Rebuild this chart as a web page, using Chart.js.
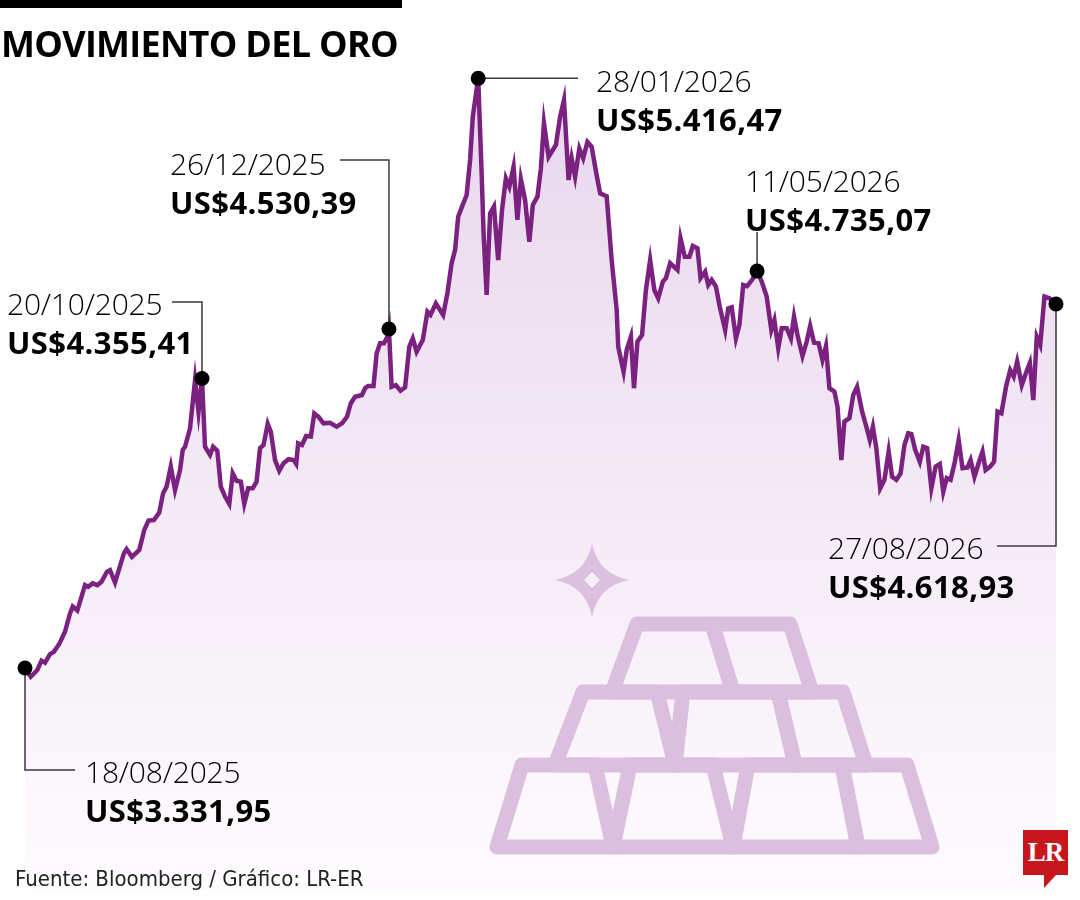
<!DOCTYPE html>
<html>
<head>
<meta charset="utf-8">
<title>Movimiento del oro</title>
<script src="https://cdn.jsdelivr.net/npm/chart.js@4.4.1/dist/chart.umd.min.js"></script>
<style>
    body { margin: 0; background: #fff; }
    #page { position: relative; width: 1080px; height: 900px; overflow: hidden; background: #fff; }
    #chart { position: absolute; left: 0; top: 0; }
    #topbar { position: absolute; left: 0; top: 0; width: 402px; height: 8px; background: #000; }
    #title { position: absolute; left: 1px; top: 24px; font-family: "Open Sans", sans-serif; font-weight: 700;
             font-size: 36px; line-height: 40px; letter-spacing: -0.7px; color: #000; white-space: nowrap; }
    .mark { position: absolute; font-family: "Open Sans", sans-serif; line-height: 33px; color: #000; white-space: nowrap; }
    .mark .d { font-weight: 300; font-size: 30px; letter-spacing: -0.2px; }
    .mark .v { font-weight: 700; font-size: 31px; letter-spacing: 0.4px; }
    #source { position: absolute; left: 15px; top: 866px; font-family: "Liberation Sans Narrow", "DejaVu Sans Condensed", sans-serif;
              font-stretch: condensed; font-size: 22px; line-height: 26px; color: #222; white-space: nowrap; }
    #logo { position: absolute; left: 1023px; top: 830px; width: 45px; height: 45px; background: #c8161d;
            color: #fff; font-family: "Liberation Serif", "DejaVu Serif", serif; font-weight: 700; font-size: 27px;
            line-height: 45px; text-align: center; letter-spacing: -1px; }
    #logo:after { content: ""; position: absolute; left: 21px; top: 45px; border-left: 0 solid transparent;
                  border-right: 12px solid transparent; border-top: 13px solid #c8161d; }
</style>
</head>
<body>
<div id="page">
    <canvas id="chart" width="1080" height="900"></canvas>
    <div id="topbar"></div>
    <div id="title">MOVIMIENTO DEL ORO</div>
    <div id="source">Fuente: Bloomberg / Gráfico: LR-ER</div>
    <div id="logo">LR</div>
</div>
<script>
// posicion en dias habiles desde el 18/08/2025 y precio del oro (US$ por onza)
var sessions = [
    0, 1.5, 3.2, 4.3, 5.2, 6.5, 7.5, 8.9, 10.4, 11.7, 12.4, 13.6, 15.6, 16.4, 17.6, 18.8, 19.9, 21.3, 22.1, 23.4,
    25.7, 26.4, 27.8, 29.7, 31.0, 32.1, 33.5, 34.9, 35.9, 36.8, 37.9, 39.0, 40.3, 41.0, 41.6, 42.9, 44.2, 45.1, 46.0,
    46.8, 48.1, 48.9, 50.0, 50.9, 52.0, 53.1, 54.0, 55.0, 56.1, 57.0, 58.0, 59.2, 60.2, 61.1, 62.0, 63.1, 63.9, 65.0,
    66.1, 67.2, 68.5, 69.8, 70.5, 71.0, 72.0, 73.1, 74.3, 75.2, 76.3, 77.6, 79.3, 81.0, 82.4, 83.7, 84.7,
    85.8, 87.6, 88.4, 89.2, 90.6, 91.4, 92.3, 93.3, 94.2, 94.6,
    95.3, 96.4, 97.6, 98.8, 99.9, 100.8, 101.8, 103.4, 104.6, 105.4, 106.8, 108.7, 109.8, 110.9, 111.8, 112.6,
    113.6, 114.8, 115.7, 116.4, 117.8,
    118.7, 119.2, 120.0, 120.9, 121.9, 123.0, 124.0, 125.0, 125.9, 127.0, 128.0, 128.9, 130.0, 131.1, 132.0, 133.2,
    134.1, 134.9, 136.1, 136.9, 138.0, 139.1, 140.1, 141.3, 142.1, 143.0, 144.1, 145.1, 146.2, 147.3, 148.5, 149.5,
    151.2, 152.5, 153.8, 154.2, 155.6, 156.4, 157.5, 158.3, 159.2, 160.4, 161.4, 162.5, 163.6, 164.6, 165.8, 166.6,
    167.7, 169.6, 170.4, 171.5, 172.7, 173.6, 174.8, 175.6, 176.8, 177.6, 178.5, 179.6, 180.6, 182.0, 182.8, 183.7,
    184.8, 185.7, 186.7, 187.7, 189.1, 190.3,
    191.5, 192.8, 194.0, 194.8, 195.8, 196.7, 198.0, 199.1, 199.9, 200.8, 202.1, 203.2, 204.1, 205.1, 206.3, 207.3,
    208.2, 209.1, 210.4, 211.2, 212.2, 213.0, 214.3, 215.3, 216.3, 217.6, 218.7, 219.6, 220.4, 221.3, 222.3, 223.4,
    224.5, 225.4, 226.5, 227.6, 228.6, 229.6, 230.4, 231.4, 232.6, 233.5, 234.5, 235.6, 236.7, 237.8, 238.7, 239.6,
    240.6, 241.7, 242.7, 243.7, 245.0, 245.8, 246.8, 248.0, 248.9, 249.7, 250.9, 251.9, 252.8, 253.8, 255.0, 256.1,
    257.0, 257.9, 259.1, 260.0, 261.2, 262.1, 263.0, 263.9, 265.0, 266.3, 268
];
var prices = [
    3331.95, 3301, 3325, 3358, 3351, 3381, 3389, 3417, 3460, 3525, 3549, 3535, 3625, 3619, 3631, 3625, 3637, 3672, 3678, 3634,
    3737, 3752, 3725, 3749, 3820, 3853, 3855, 3881, 3950, 3973, 4044, 3961, 4032, 4103, 4114, 4179, 4350, 4238, 4355.41,
    4114, 4085, 4114, 4100, 3973, 3938, 3912, 4020, 3994, 3991, 3912, 3967, 3967, 3991, 4109, 4120, 4195, 4167, 4067,
    4029, 4056, 4070, 4067, 4053, 4126, 4120, 4152, 4150, 4232, 4220, 4197, 4199, 4185, 4197, 4220, 4268,
    4291, 4297, 4321, 4329, 4329, 4444, 4480, 4480, 4503, 4530.39,
    4326, 4332, 4312, 4324, 4468, 4497, 4450, 4491, 4591, 4580, 4621, 4580, 4657, 4763, 4810, 4927,
    4963, 5004, 5128, 5281, 5416.47,
    5081, 4869, 4651, 4939, 4963, 4774, 4951, 5063, 5033, 5104, 4916, 5060, 4986, 4839, 4969, 4998,
    5098, 5258, 5139, 5157, 5181, 5281, 5340, 5057, 5134, 5069, 5169, 5134, 5192, 5175, 5081, 5010,
    5000, 4774, 4598, 4468, 4379, 4456, 4503, 4321, 4486, 4509, 4668, 4774, 4668, 4639, 4698, 4710,
    4763, 4739, 4851, 4786, 4786, 4824, 4816, 4710, 4733, 4686, 4704, 4680, 4609, 4527, 4603, 4607,
    4497, 4544, 4686, 4682, 4706, 4735.07,
    4698, 4645, 4527, 4562, 4462, 4533, 4533, 4497, 4574, 4509, 4435, 4486, 4541, 4482, 4480, 4421,
    4470, 4321, 4309, 4256, 4067, 4203, 4215, 4297, 4326, 4238, 4185, 4138, 4185, 4109, 3967, 3997,
    4097, 4008, 3997, 4020, 4120, 4162, 4159, 4103, 4061, 4114, 4109, 3967, 4044, 4053, 3955, 4003,
    3997, 4061, 4138, 4038, 4041, 4067, 4008, 4061, 4097, 4032, 4044, 4061, 4238, 4232, 4326, 4385,
    4362, 4415, 4332, 4368, 4411, 4279, 4503, 4474, 4645, 4639, 4618.93
];

// puntos destacados
var markDates = ['18/08/2025', '20/10/2025', '26/12/2025', '28/01/2026', '11/05/2026', '27/08/2026'];
var markSessions = [0, 46.0, 94.6, 117.8, 190.3, 268];
var markPrices = [3331.95, 4355.41, 4530.39, 5416.47, 4735.07, 4618.93];

// posicion de cada etiqueta: x del texto, linea base de la fecha y codo de la linea guia
var labelLayout = [
    { left: 85, base: 783, leader: [['dot', 770], [75, 770]] },
    { left: 7, base: 315, leader: [['dot', 302], [172, 302]] },
    { left: 170, base: 175, leader: [['dot', 160], [340, 160]] },
    { left: 596, base: 92, leader: [[578, 'dot']] },
    { left: 745, base: 192, leader: [['dot', 232]] },
    { left: 828, base: 559, leader: [['dot', 546], [997, 546]] }
];

function formatUsd(v) {
    var parts = v.toFixed(2).split('.');
    var ent = parts[0].replace(/\B(?=(\d{3})+(?!\d))/g, '.');
    return 'US$' + ent + ',' + parts[1];
}

var page = document.getElementById('page');
markDates.forEach(function(d, i) {
    var lay = labelLayout[i];
    var div = document.createElement('div');
    div.className = 'mark';
    div.style.left = lay.left + 'px';
    div.style.top = (lay.base - 28) + 'px';
    div.innerHTML = '<span class="d">' + d + '</span><br><span class="v">' + formatUsd(markPrices[i]) + '</span>';
    page.appendChild(div);
});

function drawBars(ctx) {
    // lingotes y destello decorativos
    var bars = [
        [637, 712, 612, 733, 624, 692], [712, 790, 733, 812, 624, 692],
        [583, 657, 555, 675, 692, 765], [683, 778, 675, 795, 692, 765], [778, 843, 795, 866, 692, 765],
        [522, 595, 497, 613, 765, 847], [630, 713, 613, 733, 765, 847], [748, 842, 733, 858, 765, 847], [842, 907, 858, 932, 765, 847]
    ];
    ctx.save();
    ctx.strokeStyle = '#dcbfde';
    ctx.fillStyle = '#dcbfde';
    ctx.lineWidth = 15;
    ctx.lineJoin = 'round';
    bars.forEach(function(b) {
        ctx.beginPath();
        ctx.moveTo(b[0], b[4]);
        ctx.lineTo(b[1], b[4]);
        ctx.lineTo(b[3], b[5]);
        ctx.lineTo(b[2], b[5]);
        ctx.closePath();
        ctx.stroke();
    });
    var cx = 592, cy = 580, r = 37, k = 6;
    ctx.beginPath();
    ctx.moveTo(cx, cy - r);
    ctx.quadraticCurveTo(cx + k, cy - k, cx + r, cy);
    ctx.quadraticCurveTo(cx + k, cy + k, cx, cy + r);
    ctx.quadraticCurveTo(cx - k, cy + k, cx - r, cy);
    ctx.quadraticCurveTo(cx - k, cy - k, cx, cy - r);
    ctx.closePath();
    ctx.moveTo(cx, cy - 8);
    ctx.lineTo(cx - 8, cy);
    ctx.lineTo(cx, cy + 8);
    ctx.lineTo(cx + 8, cy);
    ctx.closePath();
    ctx.fill('evenodd');
    ctx.restore();
}

var leaderPlugin = {
    id: 'leaders',
    afterDatasetDraw: function(chart, args) {
        if (args.index !== 0) return;
        var ctx = chart.ctx;
        drawBars(ctx);
        var xs = chart.scales.x, ys = chart.scales.y;
        ctx.save();
        ctx.strokeStyle = '#3a3a3a';
        ctx.lineWidth = 1.5;
        labelLayout.forEach(function(lay, i) {
            var px = xs.getPixelForValue(markSessions[i]);
            var py = ys.getPixelForValue(markPrices[i]);
            ctx.beginPath();
            ctx.moveTo(px, py);
            lay.leader.forEach(function(p) {
                ctx.lineTo(p[0] === 'dot' ? px : p[0], p[1] === 'dot' ? py : p[1]);
            });
            ctx.stroke();
        });
        ctx.restore();
    }
};

var ctx = document.getElementById('chart');
new Chart(ctx, {
    type: 'line',
    data: {
        datasets: [{
            label: 'Oro',
            data: sessions.map(function(s, i) { return { x: s, y: prices[i] }; }),
            borderColor: '#7b2180',
            borderWidth: 4.5,
            pointRadius: 0,
            tension: 0,
            fill: 'start',
            clip: false,
            order: 0,
            backgroundColor: function(c) {
                var area = c.chart.chartArea;
                if (!area) return 'rgba(0,0,0,0)';
                var g = c.chart.ctx.createLinearGradient(0, area.top, 0, area.bottom);
                g.addColorStop(0, '#e8d6ec');
                g.addColorStop(1, '#fefcfe');
                return g;
            }
        }, {
            label: 'Destacados',
            data: markSessions.map(function(s, i) { return { x: s, y: markPrices[i] }; }),
            showLine: false,
            pointRadius: 7.5,
            pointBackgroundColor: '#000',
            pointBorderWidth: 0,
            clip: false,
            order: -1
        }]
    },
    options: {
        responsive: false,
        animation: false,
        layout: { padding: { left: 25, right: 24, top: 70, bottom: 10 } },
        scales: {
            x: { type: 'linear', min: 0, max: 268, display: false },
            y: { min: 2547, max: 5446, display: false }
        },
        plugins: {
            legend: { display: false },
            tooltip: { enabled: false }
        }
    },
    plugins: [leaderPlugin]
});
</script>
</body>
</html>
